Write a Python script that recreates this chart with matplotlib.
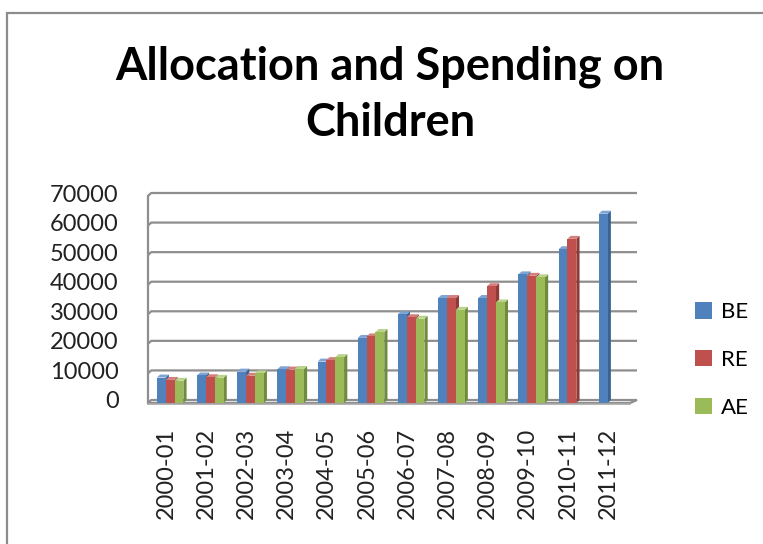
import numpy as np
import matplotlib
matplotlib.use("Agg")
import matplotlib.pyplot as plt
from matplotlib.patches import Rectangle, Polygon, Patch

plt.rcParams['font.family'] = ['Lato', 'DejaVu Sans']

years = ["2000-01", "2001-02", "2002-03", "2003-04", "2004-05", "2005-06",
         "2006-07", "2007-08", "2008-09", "2009-10", "2010-11", "2011-12"]
BE = [7600, 8300, 9600, 10400, 13000, 21000, 29000, 34500, 34500, 42500, 51000, 63000]
RE = [6800, 7700, 8200, 10300, 13500, 21500, 28000, 34500, 38500, 42000, 54500, np.nan]
AE = [6500, 7500, 9000, 10500, 14500, 23000, 27500, 30500, 33000, 41500, np.nan, np.nan]
series = ["BE", "RE", "AE"]
yticks = [0, 10000, 20000, 30000, 40000, 50000, 60000, 70000]

front = ['#4F81BD', '#C0504D', '#9BBB59']
side = ['#3A6293', '#8F3A37', '#718B3E']
topc = ['#7FA3D3', '#D57F7C', '#B9D48A']

W, H = 763, 544
fig = plt.figure(figsize=(W / 100, H / 100), dpi=100)

# chart border (Excel chart area)
fig.patches.append(Rectangle((7 / W, -0.1), 2, (544 - 13) / H + 0.1,
                             transform=fig.transFigure, fill=False,
                             edgecolor='#8C8C8C', linewidth=1.6))

fig.text(390 / W, 1 - 80 / H, "Allocation and Spending on", ha='center',
         va='baseline', fontsize=32.5, fontweight='bold')
fig.text(390 / W, 1 - 136 / H, "Children", ha='center', va='baseline',
         fontsize=32.5, fontweight='bold')

ax = fig.add_axes([148 / W, 1 - 400 / H, (637 - 148) / W, (400 - 193) / H])
ax.set_xlim(-0.45, 11.72)
ax.set_ylim(0, 70000)
for s in ax.spines.values():
    s.set_visible(False)
ax.set_xticks(range(len(years)))
ax.set_xticklabels(years, rotation=90, fontsize=17, color='#222222')
ax.set_yticks(yticks)
ax.set_yticklabels([str(v) for v in yticks], fontsize=17, color='#222222')
ax.yaxis.set_tick_params(length=0, pad=21)
ax.xaxis.set_tick_params(length=0, pad=20)

grid = '#8E8E8E'
dxw, dyw = 0.08, -1000
xl = -0.45
# back wall gridlines with slanted left ends
for v in yticks[1:]:
    ax.plot([xl, xl + dxw, 11.72], [v + dyw, v, v], color=grid, lw=1.6,
            clip_on=False, solid_capstyle='butt')
ax.plot([xl, xl], [dyw, 70000 + dyw], color=grid, lw=1.6, clip_on=False)
# floor
floor = Polygon([[xl, -1000], [xl + dxw, 0], [11.72, 0], [11.55, -1000]],
                closed=True, facecolor='white', edgecolor=grid, lw=1.6,
                clip_on=False)
ax.add_patch(floor)
ax.plot([xl, 11.55], [-1300, -1300], color='#A8A8A8', lw=1.2, clip_on=False)

bw = 0.22
ddx, ddy = 0.08, 1000
for j, vals in enumerate([BE, RE, AE]):
    for i, v in enumerate(vals):
        if np.isnan(v):
            continue
        x0 = i + 0.1 + (j - 1) * bw - bw / 2
        x1 = x0 + bw
        y0 = -1000
        ax.add_patch(Polygon([[x1, y0], [x1 + ddx, y0 + ddy], [x1 + ddx, v + ddy], [x1, v]],
                             closed=True, facecolor=side[j], edgecolor='none',
                             zorder=3 + i * 3 + j, clip_on=False))
        ax.add_patch(Polygon([[x0, v], [x0 + ddx, v + ddy], [x1 + ddx, v + ddy], [x1, v]],
                             closed=True, facecolor=topc[j], edgecolor='none',
                             zorder=3 + i * 3 + j, clip_on=False))
        ax.bar(x0, v - y0, bottom=y0, width=bw, align='edge', color=front[j],
               zorder=3 + i * 3 + j, clip_on=False)

handles = [Patch(facecolor=c, edgecolor='none') for c in front]
fig.legend(handles, series, loc='upper left', bbox_to_anchor=(684 / W, 1 - 291 / H),
           frameon=False, fontsize=16, handlelength=0.75, handleheight=0.75,
           handletextpad=0.4, labelspacing=1.25, borderpad=0)

fig.savefig("out.png", dpi=100)
